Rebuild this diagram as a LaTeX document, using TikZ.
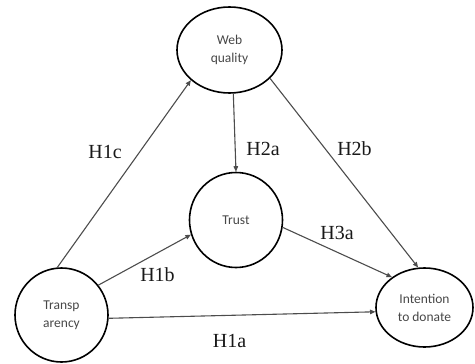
\documentclass[tikz,border=0pt]{standalone}
\usepackage{fontspec}
\setmainfont{Liberation Serif}
\newfontfamily\nodefont{Carlito}
\usetikzlibrary{arrows.meta,shapes.geometric}
\begin{document}
\begin{tikzpicture}[x=1pt,y=-1pt,
  var/.style={ellipse,draw=black,line width=1.6pt,inner sep=0pt,align=center,
    text=black!72,font=\nodefont\fontsize{13.5}{18}\selectfont},
  lab/.style={font=\fontsize{20}{22}\selectfont,inner sep=0pt,text=black!90},
  edge/.style={draw=black!70,line width=1.1pt,-{Triangle[length=5.5pt,width=4.5pt]}}]
\useasboundingbox (0,0) rectangle (475,364);
\node[var,minimum width=105pt,minimum height=86pt] (w) at (229.5,50) {Web\\quality};
\node[var,minimum width=93pt,minimum height=95pt] (t) at (236,220) {Trust};
\node[var,minimum width=93pt,minimum height=94pt] (p) at (61.5,315) {Transp\\arency};
\node[var,minimum width=97pt,minimum height=79pt] (i) at (424.5,307.5) {Intention\\to donate};
\draw[edge] (p.95) -- (w.218.5);
\draw[edge] (w.275) -- (t.90);
\draw[edge] (w.325) -- (i.99.8);
\draw[edge] (t.351.5) -- (i.137);
\draw[edge] (p.39.4) -- (t.198.8);
\draw[edge] (p.356) -- (i.185);
\node[lab] (l1c) at (105,152) {H1c};
\node[lab] (l2a) at (263,149) {H2a};
\node[lab] (l2b) at (354.5,149) {H2b};
\node[lab] (l3a) at (337,233) {H3a};
\node[lab] (l1b) at (157.5,275) {H1b};
\node[lab] (l1a) at (229.5,341) {H1a};
\end{tikzpicture}
\end{document}
